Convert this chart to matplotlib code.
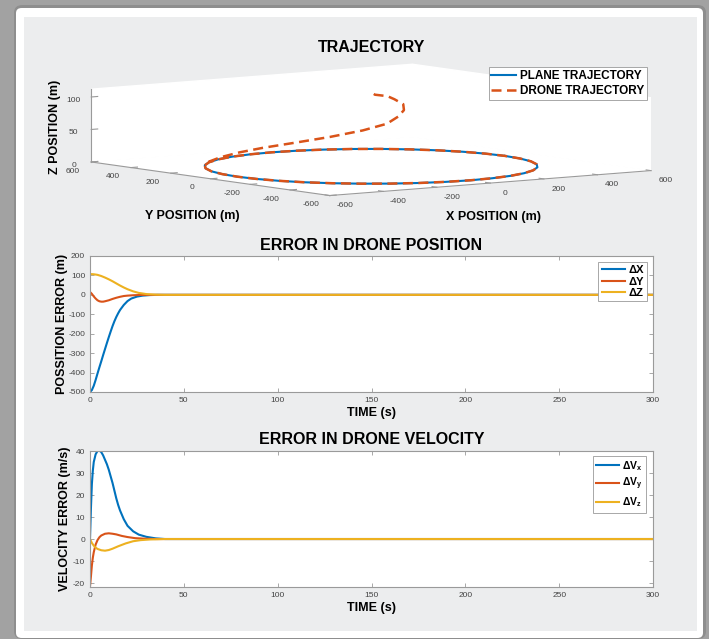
import numpy as np
import matplotlib.pyplot as plt
from matplotlib.patches import FancyBboxPatch, Rectangle

plt.rcParams['font.family'] = ['Liberation Sans', 'DejaVu Sans']
plt.rcParams['axes.unicode_minus'] = False
plt.rcParams['mathtext.fontset'] = 'custom'
plt.rcParams['mathtext.rm'] = 'Liberation Sans:bold'
plt.rcParams['mathtext.it'] = 'Liberation Sans:bold'
plt.rcParams['mathtext.bf'] = 'Liberation Sans:bold'

BLUE = '#0072BD'
RED = '#D95319'
YEL = '#EDB120'

# plane trajectory: circle of radius 500 m at z = 0, every 10 degrees
plane_x = [500, 492, 470, 433, 383, 321, 250, 171, 87, 0, -87, -171, -250, -321, -383, -433, -470, -492,
           -500, -492, -470, -433, -383, -321, -250, -171, -87, 0, 87, 171, 250, 321, 383, 433, 470, 492, 500]
plane_y = [0, 87, 171, 250, 321, 383, 433, 470, 492, 500, 492, 470, 433, 383, 321, 250, 171, 87,
           0, -87, -171, -250, -321, -383, -433, -470, -492, -500, -492, -470, -433, -383, -321, -250, -171, -87, 0]
plane_z = [0] * len(plane_x)

spiral_x = [10, 44, 116, 180, 250, 295, 315, 310, 260, 180, 84, -34, -133, -235, -321, -383]
spiral_y = [0, 40, 74, 125, 175, 232, 288, 338, 392, 450, 488, 499, 482, 441, 383, 321]
spiral_z = [111, 107, 101, 92, 80, 67, 54, 41, 30, 20, 13, 8, 5, 2.5, 1, 0]
drone_x = spiral_x + plane_x[15:] + plane_x[1:15]
drone_y = spiral_y + plane_y[15:] + plane_y[1:15]
drone_z = spiral_z + plane_z[15:] + plane_z[1:15]

# position error (m)
t_dx = [0, 1, 2, 3, 4, 5, 6, 7, 8, 9, 10, 11, 12, 13, 14, 15, 16, 18, 20, 22, 25, 28, 32, 36, 300]
dx = [-500, -490, -468, -438, -405, -373, -342, -310, -279, -248, -218, -189, -161, -136, -114, -95,
      -78, -52, -32, -19, -9, -4, -1, 0, 0]
t_dy = [0, 1, 2, 3, 4, 5, 6, 7, 8, 10, 12, 14, 16, 18, 20, 23, 27, 32, 300]
dy = [15, 5, -8, -19, -28, -33, -35, -35, -33, -28, -21, -15, -10, -6, -4, -2, -0.5, 0, 0]
t_dz = [0, 2, 4, 6, 8, 10, 12, 14, 16, 18, 20, 23, 26, 30, 35, 40, 300]
dz = [107, 106, 103, 97, 89, 80, 70, 59, 48, 38, 29, 18, 10, 4, 1, 0, 0]

# velocity error (m/s)
t_dvx = [0, 0.5, 1, 1.5, 2, 3, 4, 5, 6, 7, 8, 9, 10, 11, 12, 13, 14, 15, 16, 18, 20, 23, 26, 30, 35, 40, 300]
dvx = [0, 14, 25, 31, 35, 38.5, 40, 40.2, 39.5, 38, 36, 34, 31.5, 28.5, 25.5, 22, 18.5, 15.5, 13,
       9, 6, 3.5, 2, 1, 0.3, 0, 0]
t_dvy = [0, 0.5, 1, 1.5, 2, 3, 4, 5, 6, 8, 10, 12, 14, 17, 20, 24, 30, 35, 300]
dvy = [-21.5, -17, -12, -8.5, -6, -2.5, -0.5, 0.8, 1.6, 2.4, 2.6, 2.4, 2.1, 1.4, 0.9, 0.4, 0.1, 0, 0]
t_dvz = [0, 1, 2, 3, 4, 6, 8, 10, 12, 15, 19, 23, 27, 32, 40, 300]
dvz = [0, -1.8, -3, -3.9, -4.5, -5.1, -5.3, -5, -4.4, -3.3, -2, -1, -0.5, -0.2, 0, 0]

W, H = 709, 639


def fx(px):
    return px / W


def fy(py):
    return 1 - py / H


fig = plt.figure(figsize=(W / 100, H / 100), dpi=100)
fig.patch.set_facecolor('#a2a2a2')
fig.add_artist(FancyBboxPatch((fx(14), fy(639)), fx(706) - fx(14), fy(5) - fy(639),
                              boxstyle='round,pad=0,rounding_size=0.012', transform=fig.transFigure,
                              fc='#8e8e8e', ec='none', zorder=-11))
fig.add_artist(FancyBboxPatch((fx(16), fy(638)), fx(703) - fx(16), fy(8) - fy(638),
                              boxstyle='round,pad=0,rounding_size=0.008', transform=fig.transFigure,
                              fc='white', ec='none', zorder=-10))
fig.add_artist(Rectangle((fx(24), fy(631)), fx(697) - fx(24), fy(17) - fy(631),
                         transform=fig.transFigure, fc='#ecedee', ec='none', zorder=-9))

# ---- 3D trajectory ----
S = 600
ax3 = fig.add_axes([fx(363 - S / 2), fy(138 + S / 2), S / W, S / H], projection='3d',
                   proj_type='ortho', computed_zorder=False)
ax3.patch.set_alpha(0)
ax3.view_init(elev=6, azim=-126.6)
ax3.set_box_aspect((1, 1, 0.183), zoom=0.923)
ax3.plot(plane_x, plane_y, plane_z, color=BLUE, lw=1.5, label='PLANE TRAJECTORY')
ax3.plot(drone_x, drone_y, drone_z, color=RED, lw=1.8, ls=(0, (4, 2.2)), label='DRONE TRAJECTORY')
ax3.set_xlim(-600, 600)
ax3.set_ylim(-600, 600)
ax3.set_zlim(0, 112)
ax3.set_xticks([-600, -400, -200, 0, 200, 400, 600])
ax3.set_yticks([-600, -400, -200, 0, 200, 400, 600])
ax3.set_zticks([0, 50, 100])
ax3.grid(False)
for axis in (ax3.xaxis, ax3.yaxis, ax3.zaxis):
    axis.set_pane_color((1, 1, 1, 1))
    axis.pane.set_edgecolor((1, 1, 1, 1))
    axis.line.set_color('#9a9a9a')
    axis.line.set_linewidth(0.8)
    axis._axinfo['tick']['inward_factor'] = 0.0
    axis._axinfo['tick']['outward_factor'] = 0.25
ax3.tick_params(axis='x', labelsize=6, labelcolor='#444', color='#9a9a9a', pad=6)
ax3.tick_params(axis='y', labelsize=6, labelcolor='#444', color='#9a9a9a', pad=5)
ax3.tick_params(axis='z', labelsize=6, labelcolor='#444', color='#9a9a9a', pad=-1)
leg3 = ax3.legend(loc='upper right', bbox_to_anchor=(fx(647), fy(67)), bbox_transform=fig.transFigure,
                  prop={'weight': 'bold', 'size': 8.5}, fancybox=False, edgecolor='#9a9a9a', framealpha=1,
                  borderpad=0.25, labelspacing=0.3, handlelength=2.1, handletextpad=0.3, borderaxespad=0)
leg3.get_frame().set_linewidth(0.6)

fig.text(fx(371.5), fy(48), 'TRAJECTORY', ha='center', va='center', fontsize=11.5, fontweight='bold')
fig.text(fx(55), fy(127), 'Z POSITION (m)', rotation=90, ha='center', va='center', fontsize=9,
         fontweight='bold')
fig.text(fx(192), fy(216), 'Y POSITION (m)', ha='center', va='center', fontsize=9, fontweight='bold')
fig.text(fx(494), fy(217), 'X POSITION (m)', ha='center', va='center', fontsize=9, fontweight='bold')


# ---- 2D error plots ----
def style(ax, title, ylabel, ylab_x, title_y):
    ax.set_xlim(0, 300)
    ax.set_xticks([0, 50, 100, 150, 200, 250, 300])
    ax.tick_params(direction='in', length=3, width=0.6, top=True, right=True, labelsize=6,
                   labelcolor='#444', color='#9a9a9a', pad=3.5)
    for s in ax.spines.values():
        s.set_color('#9a9a9a')
        s.set_linewidth(0.8)
    ax.set_xlabel('TIME (s)', fontsize=9, fontweight='bold')
    ax.xaxis.set_label_coords(0.5, -0.154)
    ax.xaxis.label.set_va('center')
    ax.set_ylabel(ylabel, fontsize=9, fontweight='bold')
    ax.yaxis.set_label_coords((ylab_x - 90) / 563, 0.5)
    ax.yaxis.label.set_va('center')
    fig.text(fx(371.5), fy(title_y), title, ha='center', va='center', fontsize=11.5, fontweight='bold')


axp = fig.add_axes([fx(90), fy(392), 563 / W, 136 / H])
axp.plot(t_dx, dx, color=BLUE, lw=1.5, label='ΔX')
axp.plot(t_dy, dy, color=RED, lw=1.5, label='ΔY')
axp.plot(t_dz, dz, color=YEL, lw=1.5, label='ΔZ')
axp.set_ylim(-500, 200)
axp.set_yticks([-500, -400, -300, -200, -100, 0, 100, 200])
style(axp, 'ERROR IN DRONE POSITION', 'POSSITION ERROR (m)', 62, 245)
legp = axp.legend(loc='upper right', bbox_to_anchor=(fx(647), fy(262)), bbox_transform=fig.transFigure,
                  prop={'weight': 'bold', 'size': 8}, fancybox=False, edgecolor='#9a9a9a', framealpha=1,
                  borderpad=0.3, labelspacing=0.12, handlelength=2.1, handletextpad=0.3, borderaxespad=0)
legp.get_frame().set_linewidth(0.6)

axv = fig.add_axes([fx(90), fy(587), 563 / W, 136 / H])
axv.plot(t_dvx, dvx, color=BLUE, lw=1.5, label='ΔV$_x$')
axv.plot(t_dvy, dvy, color=RED, lw=1.5, label='ΔV$_y$')
axv.plot(t_dvz, dvz, color=YEL, lw=1.5, label='ΔV$_z$')
axv.set_ylim(-21.8, 40)
axv.set_yticks([-20, -10, 0, 10, 20, 30, 40])
style(axv, 'ERROR IN DRONE VELOCITY', 'VELOCITY ERROR (m/s)', 65, 440)
legv = axv.legend(loc='upper right', bbox_to_anchor=(fx(646), fy(456)), bbox_transform=fig.transFigure,
                  prop={'weight': 'bold', 'size': 7.5}, fancybox=False, edgecolor='#9a9a9a', framealpha=1,
                  borderpad=0.3, labelspacing=0.3, handlelength=2.2, handletextpad=0.3, borderaxespad=0)
legv.get_frame().set_linewidth(0.6)

fig.savefig('out.png', dpi=100, facecolor=fig.get_facecolor())
